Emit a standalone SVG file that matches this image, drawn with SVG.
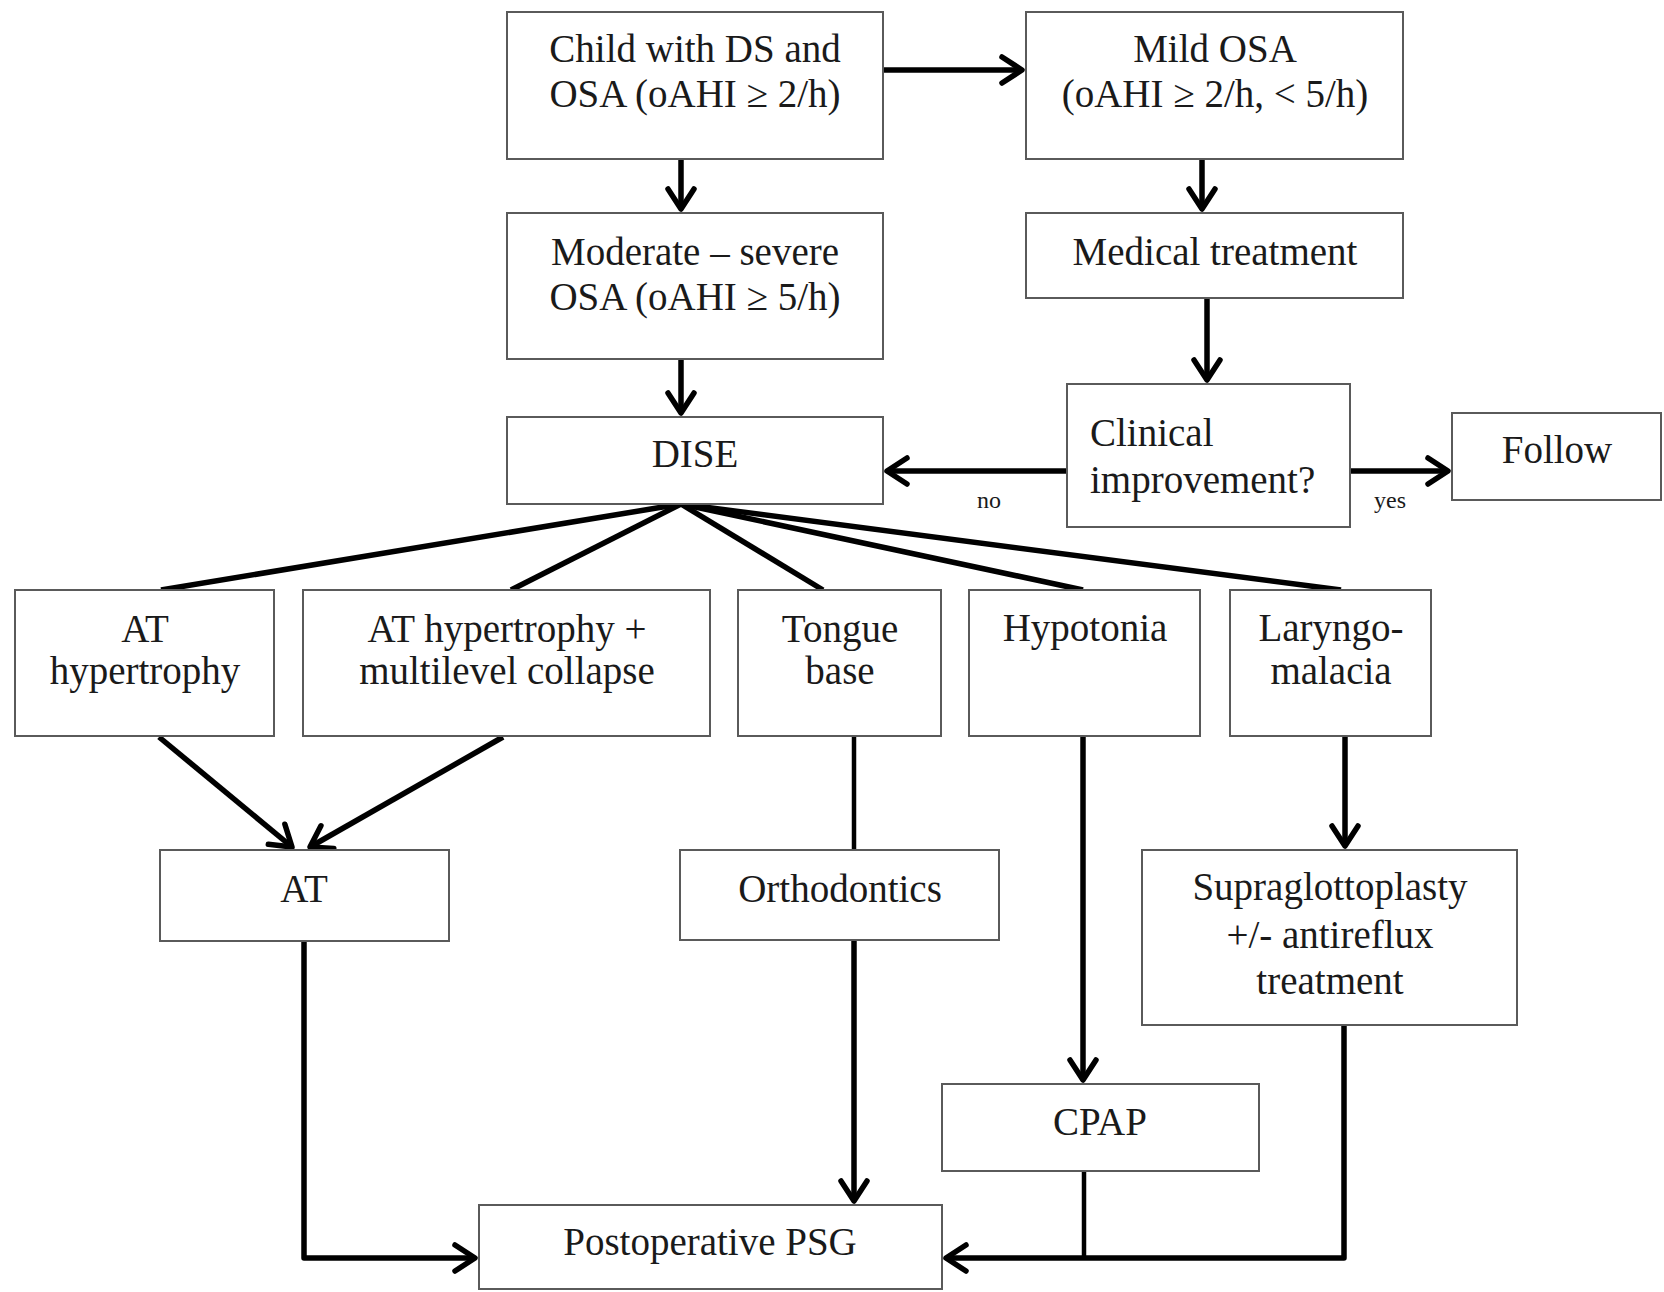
<svg xmlns="http://www.w3.org/2000/svg" width="1664" height="1292" viewBox="0 0 1664 1292">
<style>
  .box { fill: #ffffff; stroke: #5a5a5a; stroke-width: 2; }
  .t { font-family: "Liberation Serif", "Times New Roman", serif; font-size: 39px; fill: #1a1a1a; text-anchor: middle; }
  .tl { font-family: "Liberation Serif", "Times New Roman", serif; font-size: 39px; fill: #1a1a1a; text-anchor: start; }
  .lbl { font-family: "Liberation Serif", "Times New Roman", serif; font-size: 24px; fill: #1a1a1a; text-anchor: middle; }
  .c { fill: none; stroke: #000000; stroke-width: 5.5; stroke-linejoin: round; }
  .ct { fill: none; stroke: #000000; stroke-width: 4.5; }
</style>
<defs>
  <marker id="arr" viewBox="-24 -16 28 32" refX="0" refY="0" markerWidth="28" markerHeight="32" markerUnits="userSpaceOnUse" orient="auto">
    <path d="M-20,-13 L0,0 L-20,13" fill="none" stroke="#000000" stroke-width="5.5" stroke-linejoin="round" stroke-linecap="round"/>
  </marker>
</defs>
<rect x="0" y="0" width="1664" height="1292" fill="#ffffff"/>

<g id="connectors">
  <line class="c" x1="883" y1="70" x2="1022" y2="70" marker-end="url(#arr)"/>
  <line class="c" x1="681" y1="159" x2="681" y2="209" marker-end="url(#arr)"/>
  <line class="c" x1="681" y1="359" x2="681" y2="413" marker-end="url(#arr)"/>
  <line class="c" x1="1202" y1="159" x2="1202" y2="209" marker-end="url(#arr)"/>
  <line class="c" x1="1207" y1="298" x2="1207" y2="380" marker-end="url(#arr)"/>
  <line class="c" x1="1067" y1="471" x2="887" y2="471" marker-end="url(#arr)"/>
  <line class="c" x1="1350" y1="471" x2="1448" y2="471" marker-end="url(#arr)"/>
  <line class="c" x1="681" y1="504" x2="161" y2="590"/>
  <line class="c" x1="681" y1="504" x2="511" y2="590"/>
  <line class="c" x1="681" y1="504" x2="823" y2="590"/>
  <line class="c" x1="681" y1="504" x2="1083" y2="590"/>
  <line class="c" x1="681" y1="504" x2="1341" y2="590"/>
  <line class="c" x1="159" y1="737" x2="292" y2="847" marker-end="url(#arr)"/>
  <line class="c" x1="503" y1="737" x2="310" y2="847" marker-end="url(#arr)"/>
  <line class="ct" x1="854" y1="736" x2="854" y2="850"/>
  <line class="c" x1="854" y1="941" x2="854" y2="1201" marker-end="url(#arr)"/>
  <line class="c" x1="1083" y1="736" x2="1083" y2="1080" marker-end="url(#arr)"/>
  <line class="c" x1="1345" y1="736" x2="1345" y2="846" marker-end="url(#arr)"/>
  <polyline class="c" points="304,941 304,1258 475,1258" marker-end="url(#arr)"/>
  <line class="ct" x1="1084" y1="1171" x2="1084" y2="1258"/>
  <polyline class="c" points="1344,1026 1344,1258 946,1258" marker-end="url(#arr)"/>
</g>

<g id="n-child">
  <rect class="box" x="507" y="12" width="376" height="147"/>
  <text class="t" x="695" y="62">Child with DS and</text>
  <text class="t" x="695" y="107">OSA (oAHI ≥ 2/h)</text>
</g>
<g id="n-mild">
  <rect class="box" x="1026" y="12" width="377" height="147"/>
  <text class="t" x="1215" y="62">Mild OSA</text>
  <text class="t" x="1215" y="107">(oAHI ≥ 2/h, &lt; 5/h)</text>
</g>
<g id="n-moderate">
  <rect class="box" x="507" y="213" width="376" height="146"/>
  <text class="t" x="695" y="265">Moderate – severe</text>
  <text class="t" x="695" y="310">OSA (oAHI ≥ 5/h)</text>
</g>
<g id="n-medical">
  <rect class="box" x="1026" y="213" width="377" height="85"/>
  <text class="t" x="1215" y="265">Medical treatment</text>
</g>
<g id="n-dise">
  <rect class="box" x="507" y="417" width="376" height="87"/>
  <text class="t" x="695" y="467">DISE</text>
</g>
<g id="n-clinical">
  <rect class="box" x="1067" y="384" width="283" height="143"/>
  <text class="tl" x="1090" y="446">Clinical</text>
  <text class="tl" x="1090" y="493">improvement?</text>
</g>
<g id="n-follow">
  <rect class="box" x="1452" y="413" width="209" height="87"/>
  <text class="t" x="1557" y="463">Follow</text>
</g>
<g id="labels">
  <text class="lbl" x="989" y="508">no</text>
  <text class="lbl" x="1390" y="508">yes</text>
</g>
<g id="n-athyp">
  <rect class="box" x="15" y="590" width="259" height="146"/>
  <text class="t" x="145" y="642">AT</text>
  <text class="t" x="145" y="684">hypertrophy</text>
</g>
<g id="n-multilevel">
  <rect class="box" x="303" y="590" width="407" height="146"/>
  <text class="t" x="507" y="642">AT hypertrophy +</text>
  <text class="t" x="507" y="684">multilevel collapse</text>
</g>
<g id="n-tongue">
  <rect class="box" x="738" y="590" width="203" height="146"/>
  <text class="t" x="840" y="642">Tongue</text>
  <text class="t" x="840" y="684">base</text>
</g>
<g id="n-hypotonia">
  <rect class="box" x="969" y="590" width="231" height="146"/>
  <text class="t" x="1085" y="641">Hypotonia</text>
</g>
<g id="n-laryngo">
  <rect class="box" x="1230" y="590" width="201" height="146"/>
  <text class="t" x="1331" y="641">Laryngo-</text>
  <text class="t" x="1331" y="684">malacia</text>
</g>
<g id="n-at">
  <rect class="box" x="160" y="850" width="289" height="91"/>
  <text class="t" x="304" y="902">AT</text>
</g>
<g id="n-ortho">
  <rect class="box" x="680" y="850" width="319" height="90"/>
  <text class="t" x="840" y="902">Orthodontics</text>
</g>
<g id="n-supra">
  <rect class="box" x="1142" y="850" width="375" height="175"/>
  <text class="t" x="1330" y="900">Supraglottoplasty</text>
  <text class="t" x="1330" y="948">+/- antireflux</text>
  <text class="t" x="1330" y="994">treatment</text>
</g>
<g id="n-cpap">
  <rect class="box" x="942" y="1084" width="317" height="87"/>
  <text class="t" x="1100" y="1135">CPAP</text>
</g>
<g id="n-psg">
  <rect class="box" x="479" y="1205" width="463" height="84"/>
  <text class="t" x="710" y="1255">Postoperative PSG</text>
</g>
</svg>
